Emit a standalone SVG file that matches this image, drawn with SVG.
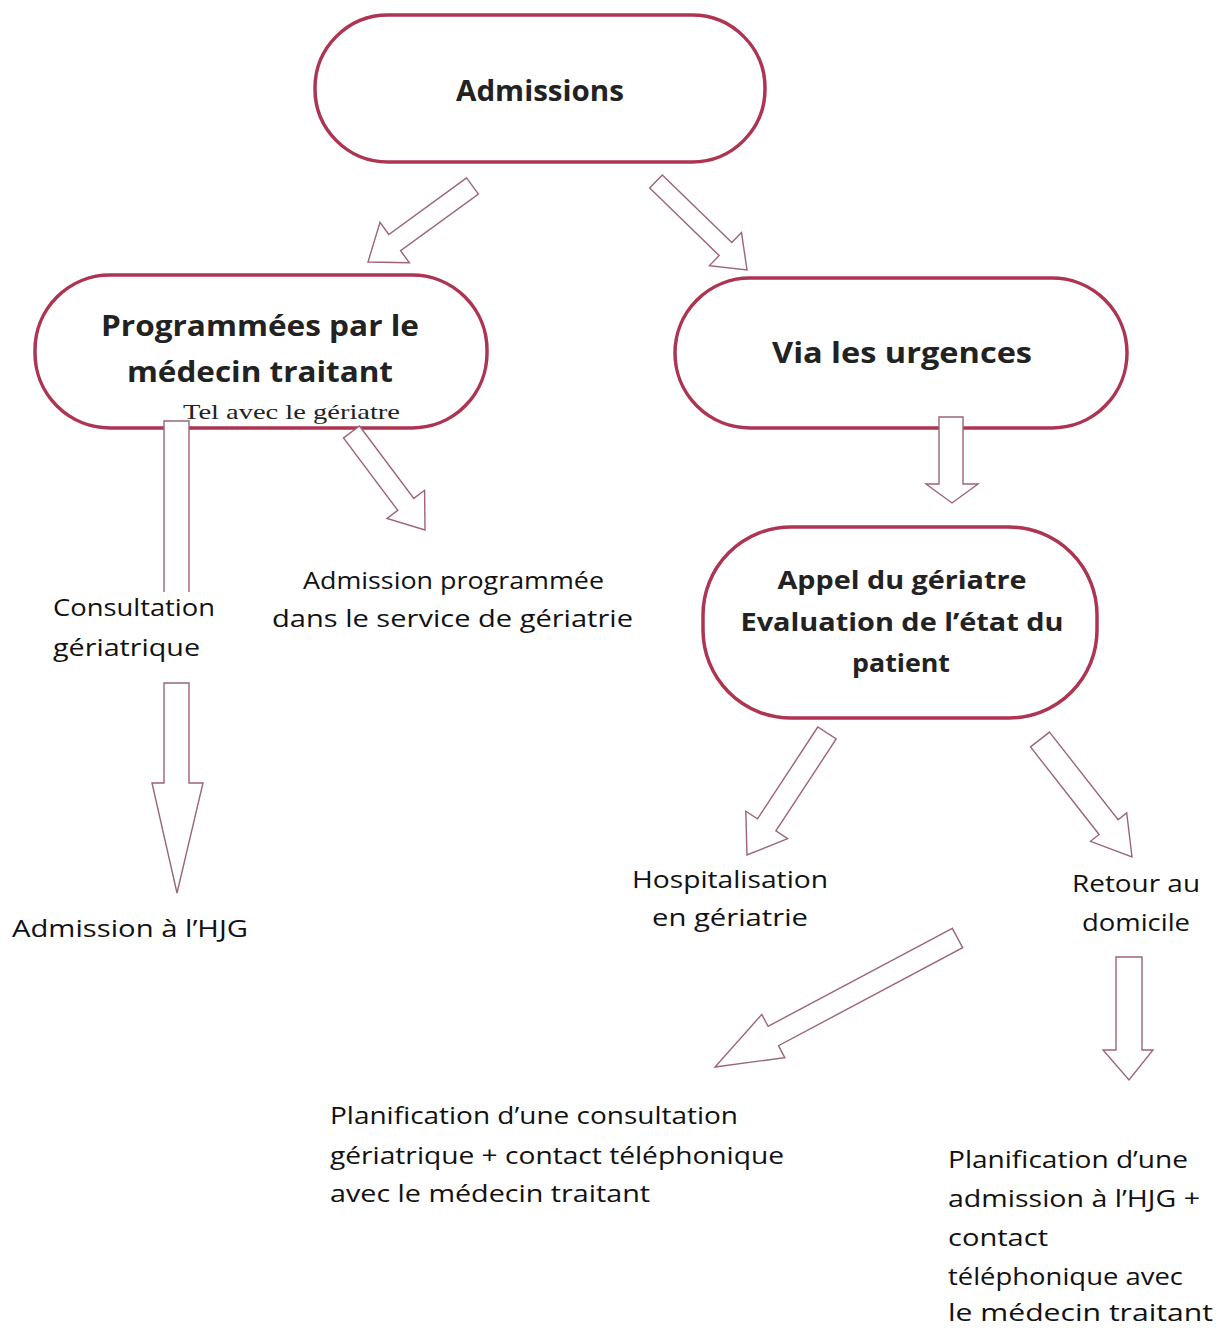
<svg xmlns="http://www.w3.org/2000/svg" width="1223" height="1328" viewBox="0 0 1223 1328">
<style>
.node{fill:#fff;stroke:#ad3552;stroke-width:3.5}
.arr{fill:#fff;stroke:#9c6478;stroke-width:1.4;stroke-linejoin:miter}
.t{font-family:"Open Sans","DejaVu Sans",sans-serif;font-size:24px;fill:#111}
.b{font-family:"Open Sans","DejaVu Sans",sans-serif;font-size:28px;font-weight:bold;fill:#222;text-anchor:middle}
.s{font-family:"Liberation Serif","Times New Roman",serif;font-size:22px;fill:#222}
</style>
<rect width="1223" height="1328" fill="#fff"/>
<g id="admissions">
<rect class="node" x="315" y="15" width="450" height="147" rx="73" ry="73"/>
<text class="b" x="540" y="101" textLength="168" lengthAdjust="spacingAndGlyphs">Admissions</text>
</g>
<g id="programmees">
<rect class="node" x="35" y="275" width="452" height="153" rx="75" ry="75"/>
<text class="b" x="260" y="336" textLength="318" lengthAdjust="spacingAndGlyphs">Programmées par le</text>
<text class="b" x="260" y="382" textLength="266" lengthAdjust="spacingAndGlyphs">médecin traitant</text>
<text class="s" x="183" y="419" textLength="217" lengthAdjust="spacingAndGlyphs">Tel avec le gériatre</text>
</g>
<g id="urgences">
<rect class="node" x="675" y="278" width="452" height="150" rx="75" ry="75"/>
<text class="b" x="902" y="363" textLength="260" lengthAdjust="spacingAndGlyphs">Via les urgences</text>
</g>
<g id="appel">
<rect class="node" x="703" y="527" width="394" height="191" rx="88" ry="88"/>
<text class="b" x="902" y="589" style="font-size:25px" textLength="249" lengthAdjust="spacingAndGlyphs">Appel du gériatre</text>
<text class="b" x="902" y="631" style="font-size:25px" textLength="323" lengthAdjust="spacingAndGlyphs">Evaluation de l’état du</text>
<text class="b" x="901" y="672" style="font-size:25px" textLength="98" lengthAdjust="spacingAndGlyphs">patient</text>
</g>
<g id="labels">
<text class="t" x="53" y="616" textLength="162" lengthAdjust="spacingAndGlyphs">Consultation</text>
<text class="t" x="53" y="656" textLength="147" lengthAdjust="spacingAndGlyphs">gériatrique</text>
<text class="t" x="303" y="589" textLength="301" lengthAdjust="spacingAndGlyphs">Admission programmée</text>
<text class="t" x="272" y="627" textLength="361" lengthAdjust="spacingAndGlyphs">dans le service de gériatrie</text>
<text class="t" x="12" y="937" textLength="236" lengthAdjust="spacingAndGlyphs">Admission à l’HJG</text>
<text class="t" x="632" y="888" textLength="196" lengthAdjust="spacingAndGlyphs">Hospitalisation</text>
<text class="t" x="652" y="926" textLength="156" lengthAdjust="spacingAndGlyphs">en gériatrie</text>
<text class="t" x="1072" y="892" textLength="128" lengthAdjust="spacingAndGlyphs">Retour au</text>
<text class="t" x="1082" y="931" textLength="108" lengthAdjust="spacingAndGlyphs">domicile</text>
<text class="t" x="330" y="1124" textLength="408" lengthAdjust="spacingAndGlyphs">Planification d’une consultation</text>
<text class="t" x="330" y="1164" textLength="454" lengthAdjust="spacingAndGlyphs">gériatrique + contact téléphonique</text>
<text class="t" x="330" y="1202" textLength="320" lengthAdjust="spacingAndGlyphs">avec le médecin traitant</text>
<text class="t" x="948" y="1168" textLength="240" lengthAdjust="spacingAndGlyphs">Planification d’une</text>
<text class="t" x="948" y="1207" textLength="252" lengthAdjust="spacingAndGlyphs">admission à l’HJG +</text>
<text class="t" x="948" y="1246" textLength="100" lengthAdjust="spacingAndGlyphs">contact</text>
<text class="t" x="948" y="1285" textLength="235" lengthAdjust="spacingAndGlyphs">téléphonique avec</text>
<text class="t" x="948" y="1321" textLength="265" lengthAdjust="spacingAndGlyphs">le médecin traitant</text>
</g>
<g id="connectors">
<polygon class="arr" points="466.6,177.9 388.8,234.5 380,222.4 368,262 409.4,262.8 400.6,250.7 478.4,194.1"/>
<polygon class="arr" points="662.3,175 731.8,242.6 741.5,232.6 747,270 709.5,265.6 719.2,255.6 649.7,188"/>
<path class="arr" d="M164,592 V421 H189 V592"/>
<polygon class="arr" points="164,683 164,783 152,783 177,893 203,783 189,783 189,683"/>
<polygon class="arr" points="359.5,426 413.8,498.4 424.6,490.3 425,530 387,518.5 397.8,510.4 343.5,438"/>
<polygon class="arr" points="939,417 963,417 963,484 978,484 952,503 926,484 939,484"/>
<polygon class="arr" points="817.8,727 757.5,818.9 745.8,811.2 747,855 787.6,838.6 775.9,830.9 836.2,739"/>
<polygon class="arr" points="1049.5,732.1 1118.1,819.7 1126.7,812.9 1132,857 1090.5,841.3 1099.1,834.5 1030.5,746.9"/>
<polygon class="arr" points="952.3,928.3 768.1,1026.3 761.8,1014.4 715,1067 784.8,1057.6 778.5,1045.7 962.7,947.7"/>
<polygon class="arr" points="1116,957 1142,957 1142,1050 1153,1050 1129,1080 1103,1050 1116,1050"/>
</g>
</svg>
